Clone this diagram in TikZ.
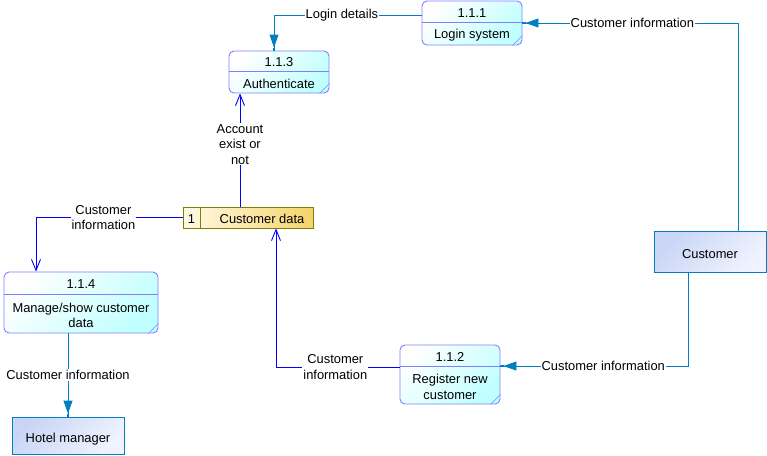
\documentclass[tikz,border=0pt]{standalone}
\usepackage{fontspec}
\setmainfont{Liberation Sans}
\usetikzlibrary{arrows.meta, calc, positioning}

\definecolor{procline}{HTML}{8080FF}
\definecolor{proccyan}{HTML}{C0FFFF}
\definecolor{flowsteel}{HTML}{0080C0}
\definecolor{flowblue}{HTML}{0000FF}
\definecolor{storeline}{HTML}{808000}
\definecolor{storelight}{HTML}{FFFAE6}
\definecolor{storegold}{HTML}{F5D36B}
\definecolor{extdark}{HTML}{C8D5F5}
\definecolor{extlight}{HTML}{F0F3FF}

\begin{document}
\begin{tikzpicture}[x=1pt, y=-1pt, % one unit per pixel, y going down
    font=\fontsize{12.9}{15.5}\selectfont,
    proc/.style={draw=procline, line width=0.9pt, rounded corners=5pt,
        top color=white, bottom color=proccyan, shading angle=45, inner sep=0pt},
    ext/.style={draw=flowsteel, line width=0.9pt, top color=extdark,
        bottom color=extlight, shading angle=45, inner sep=0pt,
        text height=13pt, text depth=0pt},
    store/.style={draw=storeline, line width=0.9pt, left color=storelight,
        right color=storegold, inner sep=0pt},
    boxtxt/.style={yshift=-1.5pt, align=center},
    flow/.style={draw=flowsteel, line width=0.9pt,
        -{Triangle[length=13pt,width=9pt]Rectangle[length=3pt,width=1.5pt]}},
    dflow/.style={draw=flowblue, line width=0.9pt,
        -{Straight Barb[length=11pt,width=9pt]}},
    lbl/.style={fill=white, inner sep=1pt, align=center}
]
    % Bounding box
    \useasboundingbox (0,0) rectangle (767,455);

    % Draw Processes
    \foreach \nm/\cx/\cy/\w/\h/\dv/\num/\txt in {
        p111/472/23/100/44/22/1.1.1/{Login system},
        p113/279/72/100/42/71/1.1.3/{Authenticate},
        p112/450/374.5/100/59/366/1.1.2/{Register new\\customer},
        p114/81/302.5/154/61/294/1.1.4/{Manage/show customer\\data}} {
        \node[proc, minimum width=\w, minimum height=\h] (\nm) at (\cx,\cy) {};
        \draw[procline, line width=0.9pt] (\nm.west |- 0,\dv) -- (\nm.east |- 0,\dv);
        \draw[procline, line width=0.5pt] ($(\nm.south east)+(-10,0)$) -- ($(\nm.south east)+(0,-10)$);
        \node[boxtxt] (\nm-num) at ($(\nm.north)!0.5!(\nm.north |- 0,\dv)$) {\num};
        \node[boxtxt] (\nm-txt) at ($(\nm.south)!0.5!(\nm.south |- 0,\dv)$) {\txt};
    }

    % Draw External Entities
    \node[ext, minimum width=112, minimum height=41] (cust) at (710,251.5) {Customer};
    \node[ext, minimum width=112, minimum height=37] (hm) at (68,435.5) {Hotel manager};

    % Draw Data Store
    \node[store, minimum width=130, minimum height=21] (store) at (248,217.5) {};
    \draw[storeline, line width=0.9pt] (200,207) -- (200,228);
    \node[boxtxt] (store-num) at (191.5,217.5) {1};
    \node[boxtxt] (store-txt) at (262,217.5) {Customer data};

    % Data Flows
    \draw[flow] (p111.west |- 0,15) -| ([xshift=-5]p113.north)
        node[lbl, pos=0.27] {Login details};
    \draw[flow] ([xshift=28]cust.north) |- (p111.east)
        node[lbl, pos=0.745] {Customer information};
    \draw[flow] ([xshift=-22]cust.south) |- (p112.east |- 0,366)
        node[lbl, pos=0.726] {Customer information};
    \draw[dflow] (p112.west |- 0,367) -| ([xshift=28]store.south)
        node[lbl, pos=0.26] {Customer\\information};
    \draw[dflow] ([xshift=-8]store.north) -- ([xshift=-8]store.north |- p113.south)
        node[lbl, pos=0.55] {Account\\exist or\\not};
    \draw[dflow] (store.west) -| ([xshift=-45]p114.north)
        node[lbl, pos=0.27] {Customer\\information};
    \draw[flow] ([xshift=-13]p114.south) -- (hm.north)
        node[lbl, midway] {Customer information};
\end{tikzpicture}
\end{document}
